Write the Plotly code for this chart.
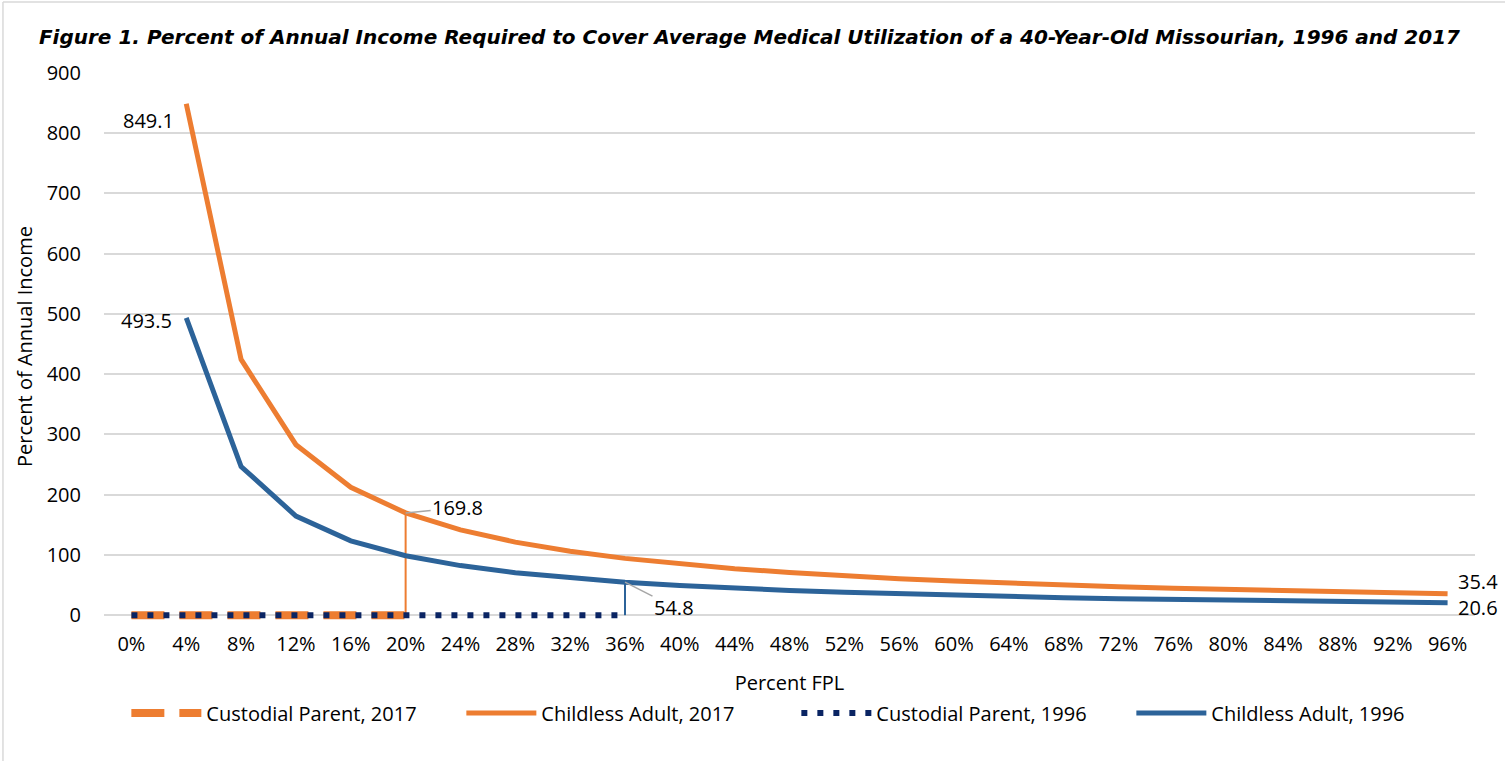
import plotly.graph_objects as go

categories = ["0%", "4%", "8%", "12%", "16%", "20%", "24%", "28%", "32%", "36%",
              "40%", "44%", "48%", "52%", "56%", "60%", "64%", "68%", "72%", "76%",
              "80%", "84%", "88%", "92%", "96%"]

custodial_2017 = [0, 0, 0, 0, 0, 0] + [None] * 19
childless_2017 = [None, 849.1, 424.5, 283.0, 212.3, 169.8, 141.5, 121.3, 106.1, 94.3,
                  84.9, 77.2, 70.8, 65.3, 60.6, 56.6, 53.1, 49.9, 47.2, 44.7,
                  42.5, 40.4, 38.6, 36.9, 35.4]
custodial_1996 = [0] * 10 + [None] * 15
childless_1996 = [None, 493.5, 246.8, 164.5, 123.4, 98.7, 82.3, 70.5, 61.7, 54.8,
                  49.4, 44.9, 41.1, 38.0, 35.3, 32.9, 30.8, 29.0, 27.4, 26.0,
                  24.7, 23.5, 22.4, 21.5, 20.6]

# eligibility cut-offs (index into categories)
cut_2017 = 5
cut_1996 = 9

y_ticks = [0, 100, 200, 300, 400, 500, 600, 700, 800, 900]

ORANGE = "#ED7D31"
BLUE = "#2C6399"
NAVY = "#0A2463"
GRID = "#D9D9D9"
FONT = "Open Sans"

fig = go.Figure()

# drop lines at eligibility cut-offs
fig.add_trace(go.Scatter(x=[categories[cut_2017]] * 2, y=[0, childless_2017[cut_2017]],
                         mode="lines", line=dict(color=ORANGE, width=2),
                         showlegend=False, hoverinfo="skip"))
fig.add_trace(go.Scatter(x=[categories[cut_1996]] * 2, y=[0, childless_1996[cut_1996]],
                         mode="lines", line=dict(color=BLUE, width=2),
                         showlegend=False, hoverinfo="skip"))

fig.add_trace(go.Scatter(x=categories, y=custodial_2017, mode="lines",
                         name="Custodial Parent, 2017",
                         line=dict(color=ORANGE, width=8, dash="33px,15px")))
fig.add_trace(go.Scatter(x=categories, y=childless_2017, mode="lines",
                         name="Childless Adult, 2017",
                         line=dict(color=ORANGE, width=5)))
fig.add_trace(go.Scatter(x=categories, y=custodial_1996, mode="lines",
                         name="Custodial Parent, 1996",
                         line=dict(color=NAVY, width=6, dash="6px,10px")))
fig.add_trace(go.Scatter(x=categories, y=childless_1996, mode="lines",
                         name="Childless Adult, 1996",
                         line=dict(color=BLUE, width=5)))

lab_font = dict(family=FONT, size=20, color="#000000")
annotations = [
    dict(x=categories[1], y=childless_2017[1], text=f"{childless_2017[1]:.1f}",
         showarrow=False, xanchor="right", yanchor="middle", xshift=-10, yshift=-17,
         font=lab_font),
    dict(x=categories[1], y=childless_1996[1], text=f"{childless_1996[1]:.1f}",
         showarrow=False, xanchor="right", yanchor="middle", xshift=-12, yshift=-3,
         font=lab_font),
    dict(x=categories[cut_2017], y=childless_2017[cut_2017], text=f"{childless_2017[cut_2017]:.1f}",
         showarrow=True, arrowhead=0, arrowwidth=1.5, arrowcolor="#A6A6A6",
         ax=52, ay=-5, font=lab_font),
    dict(x=categories[cut_1996], y=childless_1996[cut_1996], text=f"{childless_1996[cut_1996]:.1f}",
         showarrow=True, arrowhead=0, arrowwidth=1.5, arrowcolor="#A6A6A6",
         ax=49, ay=25, font=lab_font),
    dict(x=categories[-1], y=childless_2017[-1], text=f"{childless_2017[-1]:.1f}",
         showarrow=False, xanchor="left", yanchor="middle", xshift=8, yshift=12,
         font=lab_font),
    dict(x=categories[-1], y=childless_1996[-1], text=f"{childless_1996[-1]:.1f}",
         showarrow=False, xanchor="left", yanchor="middle", xshift=8, yshift=-5,
         font=lab_font),
]

shapes = [
    dict(type="line", xref="paper", yref="paper", x0=-0.0737, x1=-0.0737, y0=-0.27, y1=1.1298,
         line=dict(color=GRID, width=1.5)),
    dict(type="line", xref="paper", yref="paper", x0=-0.0737, x1=1.03, y0=1.1298, y1=1.1298,
         line=dict(color=GRID, width=1.5)),
]

fig.update_layout(
    width=1505, height=761,
    margin=dict(l=104, r=30, t=73, b=141),
    paper_bgcolor="white", plot_bgcolor="white",
    font=dict(family=FONT, size=20, color="#000000"),
    title=dict(text="<b><i>Figure 1. Percent of Annual Income Required to Cover Average Medical Utilization of a 40-Year-Old Missourian, 1996 and 2017</i></b>",
               xref="container", yref="container", x=0.498, y=0.952,
               xanchor="center", yanchor="middle",
               font=dict(family="DejaVu Sans", size=20, color="#000000")),
    annotations=annotations, shapes=shapes,
    legend=dict(orientation="h", x=0.505, xanchor="center", y=-0.170, yanchor="middle",
                font=dict(family=FONT, size=20, color="#000000"),
                itemwidth=70, tracegroupgap=0,
                entrywidth=250, entrywidthmode="pixels"),
    showlegend=True,
)
fig.update_xaxes(type="category", categoryorder="array", categoryarray=categories,
                 range=[-0.5, len(categories) - 0.5], showgrid=False, zeroline=False,
                 showline=False, ticks="outside", ticklen=6, tickcolor="rgba(0,0,0,0)",
                 tickfont=dict(family=FONT, size=20),
                 title=dict(text="Percent FPL", font=dict(family=FONT, size=20), standoff=19))
fig.update_yaxes(range=[-8, 900], tickvals=y_ticks, showgrid=True, gridcolor=GRID, gridwidth=1.5,
                 zeroline=False, showline=False, ticklabelstandoff=22,
                 tickfont=dict(family=FONT, size=20),
                 title=dict(text="Percent of Annual Income", font=dict(family=FONT, size=20), standoff=8))

fig.write_html("out.html", config={"displayModeBar": False},
               post_script="document.body.style.margin='0px';")
